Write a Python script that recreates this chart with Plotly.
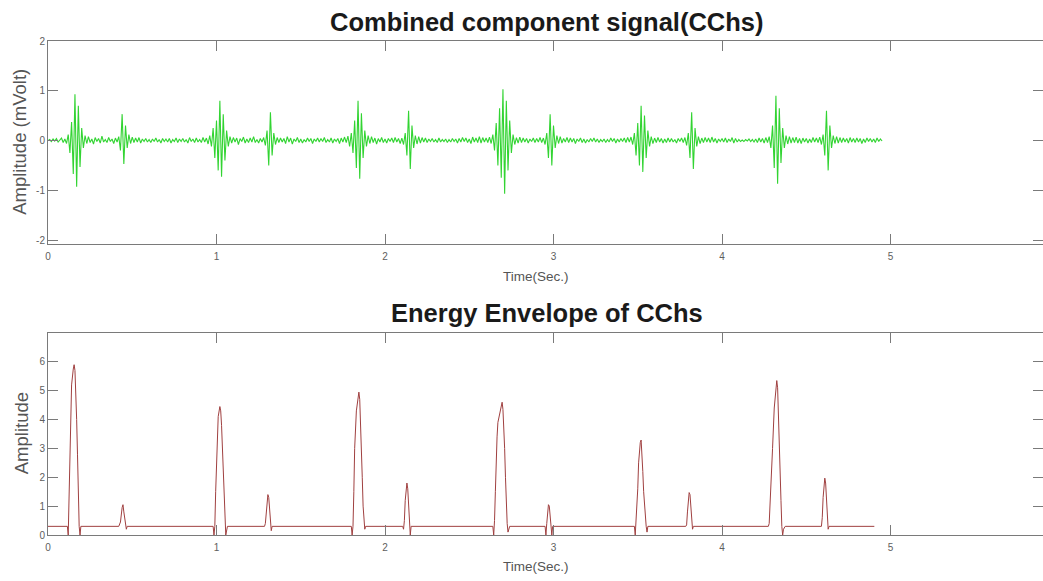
import plotly.graph_objects as go

# ---------------- data ----------------
# Combined component signal, sampled every 0.01 s starting at 0 s (mVolt)
SIG_T0 = 0.0
SIG_DT = 0.01
SIG_ROWS = [
    [0.00, 0.02, -0.02, 0.03, -0.01, 0.04, -0.03, 0.02, 0.05, -0.04],
    [0.03, -0.06, 0.12, -0.25, 0.37, -0.67, 0.93, -0.93, 0.70, -0.53],
    [0.25, -0.15, 0.10, -0.06, 0.08, -0.04, 0.03, -0.07, 0.06, -0.02],
    [0.04, -0.05, 0.09, -0.03, 0.02, -0.04, 0.06, -0.02, 0.03, -0.06],
    [0.05, -0.03, 0.08, -0.20, 0.53, -0.47, 0.30, -0.15, 0.12, -0.06],
    [0.07, -0.04, 0.05, -0.03, 0.06, -0.05, 0.03, -0.02, 0.04, -0.03],
    [0.02, -0.04, 0.03, -0.02, 0.05, -0.03, 0.02, -0.05, 0.04, -0.02],
    [0.03, -0.03, 0.04, -0.05, 0.02, -0.02, 0.05, -0.04, 0.03, -0.02],
    [0.04, -0.03, 0.02, -0.05, 0.06, -0.02, 0.03, -0.04, 0.05, -0.03],
    [0.02, -0.04, 0.06, -0.03, 0.05, -0.07, 0.10, -0.12, 0.25, -0.35],
    [0.40, -0.60, 0.80, -0.73, 0.53, -0.40, 0.20, -0.12, 0.08, -0.05],
    [0.06, -0.03, 0.05, -0.08, 0.04, -0.02, 0.07, -0.05, 0.03, -0.04],
    [0.05, -0.03, 0.08, -0.04, 0.02, -0.05, 0.04, -0.03, 0.06, -0.10],
    [0.20, -0.50, 0.57, -0.30, 0.15, -0.08, 0.06, -0.04, 0.05, -0.03],
    [0.04, -0.06, 0.08, -0.03, 0.05, -0.07, 0.03, -0.02, 0.06, -0.04],
    [0.03, -0.05, 0.02, -0.03, 0.05, -0.02, 0.04, -0.06, 0.03, -0.02],
    [0.05, -0.03, 0.04, -0.02, 0.06, -0.04, 0.02, -0.03, 0.05, -0.05],
    [0.03, -0.02, 0.04, -0.06, 0.05, -0.03, 0.07, -0.04, 0.09, -0.12],
    [0.15, -0.25, 0.40, -0.55, 0.80, -0.77, 0.55, -0.35, 0.20, -0.12],
    [0.10, -0.06, 0.08, -0.04, 0.05, -0.07, 0.04, -0.03, 0.06, -0.04],
    [0.03, -0.05, 0.04, -0.02, 0.05, -0.04, 0.06, -0.03, 0.04, -0.06],
    [0.05, -0.08, 0.15, -0.30, 0.60, -0.57, 0.30, -0.15, 0.10, -0.07],
    [0.08, -0.05, 0.06, -0.03, 0.05, -0.04, 0.03, -0.02, 0.04, -0.03],
    [0.02, -0.04, 0.05, -0.03, 0.02, -0.02, 0.03, -0.04, 0.02, -0.03],
    [0.04, -0.02, 0.03, -0.05, 0.04, -0.03, 0.06, -0.02, 0.05, -0.04],
    [0.03, -0.06, 0.07, -0.03, 0.05, -0.04, 0.08, -0.05, 0.06, -0.03],
    [0.05, -0.04, 0.07, -0.06, 0.12, -0.20, 0.35, -0.50, 0.65, -0.75],
    [1.03, -1.07, 0.80, -0.60, 0.40, -0.25, 0.12, -0.08, 0.06, -0.05],
    [0.07, -0.04, 0.05, -0.03, 0.04, -0.05, 0.03, -0.02, 0.05, -0.04],
    [0.04, -0.03, 0.06, -0.04, 0.05, -0.08, 0.15, -0.35, 0.53, -0.50],
    [0.30, -0.15, 0.10, -0.06, 0.08, -0.05, 0.04, -0.03, 0.06, -0.04],
    [0.05, -0.03, 0.04, -0.06, 0.03, -0.02, 0.05, -0.04, 0.03, -0.05],
    [0.02, -0.03, 0.04, -0.02, 0.05, -0.03, 0.03, -0.04, 0.02, -0.02],
    [0.03, -0.04, 0.02, -0.03, 0.05, -0.02, 0.04, -0.05, 0.03, -0.03],
    [0.04, -0.02, 0.05, -0.04, 0.06, -0.03, 0.07, -0.08, 0.15, -0.30],
    [0.35, -0.50, 0.70, -0.63, 0.50, -0.35, 0.20, -0.12, 0.08, -0.06],
    [0.05, -0.04, 0.06, -0.03, 0.04, -0.05, 0.03, -0.04, 0.05, -0.03],
    [0.04, -0.03, 0.02, -0.05, 0.04, -0.02, 0.05, -0.04, 0.06, -0.10],
    [0.15, -0.35, 0.57, -0.57, 0.25, -0.12, 0.08, -0.06, 0.05, -0.04],
    [0.06, -0.03, 0.05, -0.04, 0.07, -0.03, 0.04, -0.05, 0.03, -0.02],
    [0.04, -0.03, 0.05, -0.04, 0.03, -0.02, 0.06, -0.05, 0.04, -0.03],
    [0.02, -0.02, 0.01, -0.02, 0.02, -0.01, 0.03, -0.02, 0.02, -0.03],
    [0.03, -0.04, 0.05, -0.03, 0.04, -0.05, 0.06, -0.04, 0.08, -0.15],
    [0.30, -0.55, 0.90, -0.87, 0.65, -0.45, 0.25, -0.15, 0.10, -0.07],
    [0.08, -0.05, 0.06, -0.04, 0.07, -0.05, 0.04, -0.06, 0.05, -0.03],
    [0.04, -0.05, 0.03, -0.04, 0.06, -0.03, 0.05, -0.04, 0.07, -0.08],
    [0.12, -0.30, 0.60, -0.60, 0.30, -0.15, 0.10, -0.06, 0.08, -0.05],
    [0.06, -0.04, 0.05, -0.03, 0.04, -0.05, 0.06, -0.03, 0.04, -0.04],
    [0.05, -0.03, 0.04, -0.06, 0.03, -0.04, 0.05, -0.02, 0.04, -0.03],
    [0.03, -0.04, 0.05, -0.02, 0.03, -0.01],
]

# Energy envelope of CChs (time in s, amplitude)
ENV_T = [
    0.0, 0.115, 0.12, 0.125, 0.13, 0.14, 0.15, 0.155, 0.16, 0.165, 0.17, 0.175, 0.18, 0.185, 0.19, 0.195,
    0.42, 0.43, 0.44, 0.445, 0.45, 0.46, 0.465, 0.47,
    0.98, 0.985, 0.99, 0.995, 1.0, 1.005, 1.01, 1.02, 1.025, 1.03, 1.035, 1.04, 1.045, 1.05, 1.055, 1.065,
    1.285, 1.29, 1.295, 1.30, 1.305, 1.31, 1.315, 1.32, 1.325, 1.33,
    1.80, 1.805, 1.81, 1.815, 1.82, 1.83, 1.84, 1.845, 1.85, 1.855, 1.86, 1.865, 1.87, 1.875, 1.88, 1.885,
    2.105, 2.11, 2.115, 2.12, 2.125, 2.13, 2.135, 2.14, 2.145, 2.15, 2.155,
    2.64, 2.645, 2.65, 2.655, 2.66, 2.665, 2.67, 2.68, 2.69, 2.695, 2.70, 2.705, 2.71, 2.715, 2.72, 2.725,
    2.73, 2.735, 2.74,
    2.95, 2.955, 2.96, 2.965, 2.97, 2.975, 2.98, 2.985, 2.99, 2.995,
    3.48, 3.485, 3.49, 3.50, 3.505, 3.51, 3.515, 3.52, 3.525, 3.53, 3.535, 3.54, 3.545, 3.55, 3.555, 3.56,
    3.785, 3.79, 3.795, 3.80, 3.805, 3.81, 3.815, 3.82, 3.825, 3.83,
    4.275, 4.28, 4.29, 4.30, 4.31, 4.32, 4.325, 4.33, 4.335, 4.34, 4.345, 4.35, 4.355, 4.36, 4.365, 4.375,
    4.59, 4.595, 4.60, 4.605, 4.61, 4.615, 4.62, 4.625, 4.63, 4.635,
    4.904,
]
ENV_V = [
    0.3, 0.3, 0.0, 1.5, 3.0, 5.2, 5.75, 5.9, 5.7, 5.0, 4.0, 2.8, 1.4, 0.3, 0.0, 0.3,
    0.3, 0.45, 0.95, 1.05, 0.8, 0.4, 0.2, 0.3,
    0.3, 0.0, 0.3, 1.5, 2.6, 3.3, 4.1, 4.45, 4.3, 3.8, 3.0, 2.0, 1.0, 0.3, 0.0, 0.3,
    0.3, 0.4, 0.8, 1.2, 1.4, 1.3, 0.8, 0.3, 0.15, 0.3,
    0.3, 0.0, 0.3, 1.5, 3.0, 4.3, 4.9, 4.95, 4.7, 4.0, 3.0, 2.0, 1.0, 0.3, 0.2, 0.3,
    0.3, 0.2, 0.5, 1.2, 1.65, 1.8, 1.6, 1.0, 0.5, 0.0, 0.3,
    0.3, 0.0, 0.5, 1.5, 2.7, 3.4, 3.9, 4.2, 4.55, 4.6, 4.35, 3.8, 3.0, 2.0, 1.0, 0.4,
    0.1, 0.2, 0.3,
    0.3, 0.0, 0.4, 0.8, 1.05, 1.0, 0.7, 0.3, 0.0, 0.3,
    0.3, 0.0, 0.5, 1.6, 2.5, 3.1, 3.2, 3.29, 2.9, 2.2, 1.5, 1.0, 0.6, 0.3, 0.1, 0.3,
    0.3, 0.35, 0.8, 1.2, 1.47, 1.4, 1.0, 0.5, 0.2, 0.3,
    0.3, 0.4, 1.5, 3.0, 4.4, 5.2, 5.35, 5.1, 4.3, 3.3, 2.3, 1.2, 0.3, 0.0, 0.2, 0.3,
    0.3, 0.6, 1.3, 1.8, 1.97, 1.8, 1.2, 0.6, 0.2, 0.3,
    0.3,
]

X_TICKS = [0, 1, 2, 3, 4, 5]
TOP_Y_TICKS = [-2, -1, 0, 1, 2]
BOT_Y_TICKS = [0, 1, 2, 3, 4, 5, 6]

TITLE_TOP = "Combined component signal(CChs)"
TITLE_BOT = "Energy Envelope of CChs"
XLABEL = "Time(Sec.)"
YLABEL_TOP = "Amplitude (mVolt)"
YLABEL_BOT = "Amplitude"

# ---------------- build ----------------
sig_v = [v for row in SIG_ROWS for v in row]
sig_t = [SIG_T0 + i * SIG_DT for i in range(len(sig_v))]

FONT = "Liberation Sans, Arial, Helvetica, sans-serif"
AX_COLOR = "#7a7a7a"
TICK_FONT = dict(family=FONT, size=10, color="#5e5e5e")

fig = go.Figure()
fig.add_trace(go.Scatter(x=sig_t, y=sig_v, mode="lines",
                         line=dict(color="rgb(50,212,50)", width=1.1),
                         xaxis="x", yaxis="y", showlegend=False, hoverinfo="skip"))
fig.add_trace(go.Scatter(x=ENV_T, y=ENV_V, mode="lines",
                         line=dict(color="#a04040", width=1),
                         xaxis="x2", yaxis="y2", showlegend=False, hoverinfo="skip"))

XMAX = 5.905

def xaxis_cfg(anchor):
    return dict(anchor=anchor, range=[0, XMAX], tickvals=X_TICKS,
                ticktext=[str(v) for v in X_TICKS],
                ticks="inside", ticklen=10, tickwidth=1, tickcolor=AX_COLOR,
                showline=True, linecolor=AX_COLOR, linewidth=1, mirror="ticks",
                showgrid=False, zeroline=False, tickfont=TICK_FONT,
                ticklabelstandoff=3)

def yaxis_cfg(anchor, domain, rng, ticks):
    return dict(anchor=anchor, domain=domain, range=rng, tickvals=ticks,
                ticktext=[str(v) for v in ticks],
                ticks="inside", ticklen=10, tickwidth=1, tickcolor=AX_COLOR,
                showline=True, linecolor=AX_COLOR, linewidth=1, mirror="ticks",
                showgrid=False, zeroline=False, tickfont=TICK_FONT)

fig.update_layout(
    width=1043, height=581,
    margin=dict(l=48, r=0, t=41, b=46),
    paper_bgcolor="white", plot_bgcolor="white",
    xaxis=xaxis_cfg("y"),
    yaxis=yaxis_cfg("x", [0.589, 1.0], [-2.08, 2.0], TOP_Y_TICKS),
    xaxis2=xaxis_cfg("y2"),
    yaxis2=yaxis_cfg("x2", [0.0, 0.409], [0, 7], BOT_Y_TICKS),
    showlegend=False,
)

ann = []
ann.append(dict(text="<b>%s</b>" % TITLE_TOP, x=0.5015, y=1.0375, xref="paper", yref="paper",
                xanchor="center", yanchor="middle", showarrow=False,
                font=dict(family=FONT, size=25.5, color="#1a1a1a")))
ann.append(dict(text="<b>%s</b>" % TITLE_BOT, x=0.5015, y=0.4484, xref="paper", yref="paper",
                xanchor="center", yanchor="middle", showarrow=False,
                font=dict(family=FONT, size=25.5, color="#1a1a1a")))
ann.append(dict(text=XLABEL, x=0.4905, y=0.5223, xref="paper", yref="paper",
                xanchor="center", yanchor="middle", showarrow=False,
                font=dict(family=FONT, size=13.5, color="#555555")))
ann.append(dict(text=XLABEL, x=0.4905, y=-0.0628, xref="paper", yref="paper",
                xanchor="center", yanchor="middle", showarrow=False,
                font=dict(family=FONT, size=13.5, color="#555555")))
ann.append(dict(text=YLABEL_TOP, x=-0.0281, y=0.796, xref="paper", yref="paper",
                xanchor="center", yanchor="middle", showarrow=False, textangle=-90,
                font=dict(family=FONT, size=18.5, color="#555555")))
ann.append(dict(text=YLABEL_BOT, x=-0.0271, y=0.206, xref="paper", yref="paper",
                xanchor="center", yanchor="middle", showarrow=False, textangle=-90,
                font=dict(family=FONT, size=18.5, color="#555555")))
fig.update_layout(annotations=ann)

fig.write_html("out.html", config={"displayModeBar": False},
               post_script="document.body.style.margin='0px';document.body.style.overflow='hidden';")
